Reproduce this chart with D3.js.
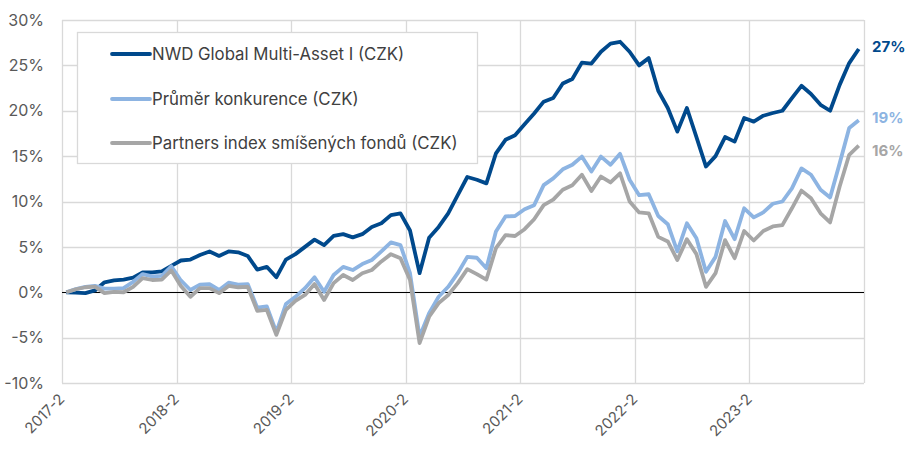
<!DOCTYPE html>
<html>
<head>
<meta charset="utf-8">
<script src="https://cdn.jsdelivr.net/npm/d3@7/dist/d3.min.js"></script>
<style>
  html, body { margin: 0; padding: 0; background: #fff; }
  svg { display: block; }
  text { font-family: Inter, "Noto Sans", sans-serif; }
</style>
</head>
<body>
<svg id="chart" width="906" height="454"></svg>
<script>
// ---------- data ----------
const startYear = 2017, startMonth = 2, monthCount = 84;
const seriesNames = [
  "NWD Global Multi-Asset I (CZK)",
  "Průměr konkurence (CZK)",
  "Partners index smíšených fondů (CZK)"
];
const nwd = [
  0.0, -0.05, -0.1, 0.2, 1.1, 1.3, 1.4, 1.6, 2.2, 2.2, 2.3, 2.9,
  3.5, 3.6, 4.1, 4.5, 4.0, 4.5, 4.4, 4.0, 2.5, 2.8, 1.65, 3.6,
  4.2, 5.0, 5.8, 5.2, 6.2, 6.4, 6.05, 6.4, 7.2, 7.6, 8.5, 8.7,
  6.8, 2.1, 6.0, 7.2, 8.7, 10.7, 12.7, 12.4, 12.0, 15.3, 16.8, 17.3,
  18.5, 19.7, 21.0, 21.4, 23.0, 23.5, 25.3, 25.2, 26.5, 27.4, 27.6, 26.5,
  25.0, 25.8, 22.2, 20.3, 17.7, 20.3, 17.1, 13.85, 15.0, 17.1, 16.6, 19.2,
  18.8, 19.45, 19.75, 20.0, 21.4, 22.75, 21.85, 20.65, 20.0, 22.85, 25.25, 26.8
];
const prumer = [
  0.0, 0.35, 0.6, 0.7, 0.4, 0.4, 0.45, 1.15, 2.0, 1.75, 1.8, 2.85,
  1.3, 0.25, 0.85, 0.9, 0.25, 1.05, 0.85, 0.9, -1.7, -1.55, -4.4, -1.3,
  -0.5, 0.45, 1.65, 0.05, 1.9, 2.8, 2.45, 3.1, 3.55, 4.5, 5.5, 5.2,
  2.1, -4.9, -2.3, -0.5, 0.6, 2.1, 3.9, 3.8, 2.65, 6.7, 8.35, 8.4,
  9.15, 9.6, 11.8, 12.55, 13.55, 14.05, 14.95, 13.3, 14.95, 14.05, 15.25, 12.4,
  10.7, 10.8, 8.4, 7.5, 4.5, 7.6, 5.95, 2.25, 3.9, 7.85, 5.85, 9.25,
  8.25, 8.8, 9.75, 10.0, 11.45, 13.65, 12.95, 11.3, 10.45, 14.2, 18.1, 18.95
];
const partners = [
  0.0, 0.33, 0.55, 0.62, -0.1, 0.05, 0.0, 0.6, 1.55, 1.35, 1.4, 2.4,
  0.7, -0.5, 0.45, 0.45, -0.1, 0.7, 0.55, 0.6, -2.05, -1.95, -4.7, -1.95,
  -0.95, -0.3, 0.9, -0.85, 1.0, 1.9, 1.35, 2.1, 2.45, 3.4, 4.2, 3.75,
  1.35, -5.6, -2.7, -1.2, -0.3, 1.0, 2.55, 2.0, 1.4, 4.85, 6.3, 6.2,
  6.95, 8.05, 9.6, 10.2, 11.3, 11.8, 12.95, 11.15, 12.75, 12.1, 13.1, 10.0,
  8.8, 8.7, 6.1, 5.6, 3.55, 5.85, 4.2, 0.6, 2.1, 5.75, 3.75, 6.75,
  5.7, 6.75, 7.25, 7.4, 9.25, 11.2, 10.35, 8.7, 7.7, 11.65, 15.15, 16.15
];
const endLabels = ["27%", "19%", "16%"];
const xTickLabels = ["2017-2", "2018-2", "2019-2", "2020-2", "2021-2", "2022-2", "2023-2"];
const yTicks = [-10, -5, 0, 5, 10, 15, 20, 25, 30];
const colors = ["#00498C", "#8DB4E2", "#A6A6A6"];

// ---------- layout ----------
const svg = d3.select("#chart");
const L = 62, R = 864, T = 20, B = 383;

// months are placed mid-month (value dated mid-month, ticks at month start)
const x = d3.scaleLinear().domain([0, monthCount]).range([L, R]);
const y = d3.scaleLinear().domain([-10, 30]).range([B, T]);
const pointX = i => x(i + 0.45);

// grid
const g = svg.append("g");
g.selectAll("line.hgrid").data(yTicks).join("line")
  .attr("x1", L).attr("x2", R)
  .attr("y1", d => Math.round(y(d)) + 0.5).attr("y2", d => Math.round(y(d)) + 0.5)
  .attr("stroke", "#D9D9D9").attr("stroke-width", 1.3);
const xTickPos = xTickLabels.map((_, k) => k * 12);
g.selectAll("line.vgrid").data(xTickPos.concat([monthCount])).join("line")
  .attr("x1", d => Math.round(x(d)) + 0.5).attr("x2", d => Math.round(x(d)) + 0.5)
  .attr("y1", T).attr("y2", B)
  .attr("stroke", "#D9D9D9").attr("stroke-width", 1.3);

// zero line
g.append("line")
  .attr("x1", L).attr("x2", R)
  .attr("y1", Math.round(y(0)) + 0.5).attr("y2", Math.round(y(0)) + 0.5)
  .attr("stroke", "#000").attr("stroke-width", 1);

// y axis labels
const yAxis = d3.axisLeft(y).tickValues(yTicks).tickSize(0).tickPadding(18)
  .tickFormat(d => d + "%");
const ya = svg.append("g").attr("transform", `translate(${L},0)`).call(yAxis);
ya.select(".domain").remove();
ya.selectAll("text").attr("fill", "#595959").style("font-size", "16px")
  .style("font-family", "Inter, sans-serif");

// x axis labels
const xAxis = d3.axisBottom(x).tickValues(xTickPos).tickSize(0)
  .tickFormat((d, k) => xTickLabels[k]);
const xa = svg.append("g").attr("transform", `translate(0,${B})`).call(xAxis);
xa.select(".domain").remove();
xa.selectAll("text")
  .attr("fill", "#595959").style("font-size", "15px")
  .attr("text-anchor", "end")
  .attr("dy", null).attr("y", 0)
  .attr("transform", "translate(3,17) rotate(-45)");

// lines
const allSeries = [nwd, prumer, partners];
const line = d3.line().x((d, i) => pointX(i)).y(d => y(d));
svg.append("g").selectAll("path").data(allSeries).join("path")
  .attr("d", d => line(d))
  .attr("fill", "none")
  .attr("stroke", (d, i) => colors[i])
  .attr("stroke-width", 3.8)
  .attr("stroke-linejoin", "round");

// end labels
const endDy = [-2, -3, 5];
svg.append("g").selectAll("text").data(allSeries).join("text")
  .attr("x", 872)
  .attr("y", (d, i) => y(d[d.length - 1]) + endDy[i])
  .attr("dy", "0.35em")
  .attr("fill", (d, i) => colors[i])
  .style("font-size", "15px").style("font-weight", "bold")
  .text((d, i) => endLabels[i]);

// legend
const lg = svg.append("g");
lg.append("rect").attr("x", 77.5).attr("y", 32.5).attr("width", 400).attr("height", 131)
  .attr("fill", "#fff").attr("stroke", "#D9D9D9").attr("stroke-width", 1.3);
const rowY = [54, 99, 143];
seriesNames.forEach((name, i) => {
  lg.append("line").attr("x1", 112).attr("x2", 150)
    .attr("y1", rowY[i]).attr("y2", rowY[i])
    .attr("stroke", colors[i]).attr("stroke-width", 3.8).attr("stroke-linecap", "round");
  lg.append("text").attr("x", 152).attr("y", rowY[i]).attr("dy", "0.35em")
    .attr("fill", "#404040").style("font-size", "16.8px").text(name);
});
</script>
</body>
</html>
